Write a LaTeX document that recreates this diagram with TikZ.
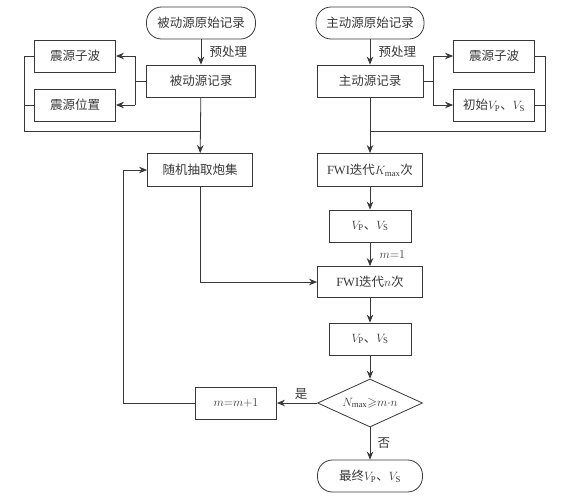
\documentclass[tikz,border=0pt]{standalone}
\usepackage{amssymb}
\usepackage{fontspec}
\setmainfont{Liberation Serif}
\newfontfamily\cjk{Noto Sans CJK SC}
\usetikzlibrary{arrows.meta,shapes.geometric}

\begin{document}
\begin{tikzpicture}[x=1pt,y=-1pt,color=black!78,line width=0.8pt,
    >={Stealth[length=8pt,width=6.5pt]},
    every node/.style={font=\cjk\fontsize{12.5}{14}\selectfont},
    box/.style={draw,rectangle,minimum height=32pt,inner sep=2pt},
    term/.style={draw,rectangle,rounded corners=15pt,minimum height=32pt,inner sep=2pt},
    decision/.style={draw,diamond,aspect=2.2,minimum width=105pt,minimum height=48pt,inner sep=0pt}]
    \useasboundingbox (0,0) rectangle (564,496);

    %passive source branch
        \node[term,minimum width=109pt] (praw) at (201,23) {被动源原始记录};
        \node[box,minimum width=109pt] (prec) at (201,81) {被动源记录};
        \node[box,minimum width=81pt] (pwav) at (75,56) {震源子波};
        \node[box,minimum width=81pt] (ploc) at (75,105) {震源位置};
        \coordinate (pb) at (135,81);
        \coordinate (pl) at (24,56);
        \coordinate (pj) at (201,131);

    %active source branch
        \node[term,minimum width=108pt] (araw) at (370,23) {主动源原始记录};
        \node[box,minimum width=106pt] (arec) at (370,81) {主动源记录};
        \node[box,minimum width=81pt] (awav) at (494,56) {震源子波};
        \node[box,minimum width=81pt] (ainit) at (494,105) {初始$V_\mathrm{P}$、$V_\mathrm{S}$};
        \coordinate (ab) at (433,81);
        \coordinate (ar) at (545,56);
        \coordinate (aj) at (370,131);

    %inversion loop
        \node[box,minimum width=105pt,minimum height=33pt] (shot) at (200,170) {随机抽取炮集};
        \node[box,minimum width=105pt,minimum height=33pt] (fwik) at (370,170) {\textrm{FWI}迭代$K_{\max}$次};
        \node[box,minimum width=82pt] (v1) at (370,226) {$V_\mathrm{P}$、$V_\mathrm{S}$};
        \node[box,minimum width=105pt,minimum height=31pt] (fwin) at (370,282) {\textrm{FWI}迭代$n$次};
        \node[box,minimum width=82pt] (v2) at (370,339) {$V_\mathrm{P}$、$V_\mathrm{S}$};
        \node[decision] (dec) at (370,403) {$N_{\max}{\geqslant}m{\cdot}n$};
        \node[box,minimum width=81pt] (mup) at (236,403) {$m{=}m{+}1$};
        \node[term,minimum width=105pt] (final) at (370,476) {最终$V_\mathrm{P}$、$V_\mathrm{S}$};
        \coordinate (lp) at (123,403);

    %passive connectors
        \draw[->] (praw) -- node[right,xshift=5pt] {预处理} (prec);
        \draw (prec.west) -- (pb);
        \draw (pb |- pwav) -- (pb |- ploc);
        \draw[->] (pb |- pwav) -- (pwav.east);
        \draw[->] (pb |- ploc) -- (ploc.east);
        \draw (pwav.west) -- (pl) |- (pj);
        \draw (ploc.west) -- (ploc.west -| pl);

    %active connectors
        \draw[->] (araw) -- node[right,xshift=5pt] {预处理} (arec);
        \draw (arec.east) -- (ab);
        \draw (ab |- awav) -- (ab |- ainit);
        \draw[->] (ab |- awav) -- (awav.west);
        \draw[->] (ab |- ainit) -- (ainit.west);
        \draw (awav.east) -- (ar) |- (aj);
        \draw (ainit.east) -- (ainit.east -| ar);

    %main flow
        \draw[->] (prec) -- (shot);
        \draw[->] (arec) -- (fwik);
        \draw[->] (fwik) -- (v1);
        \draw[->] (v1) -- node[right,xshift=6pt] {$m{=}1$} (fwin);
        \draw[->] (shot.south) |- (fwin.west);
        \draw[->] (fwin) -- (v2);
        \draw[->] (v2) -- (dec);
        \draw[->] (dec.west) -- node[above,pos=0.4] {是} (mup.east);
        \draw[->] (dec.south) -- node[right,xshift=4pt] {否} (final);
        \draw[->] (mup.west) -- (lp) |- (shot.west);
\end{tikzpicture}
\end{document}
